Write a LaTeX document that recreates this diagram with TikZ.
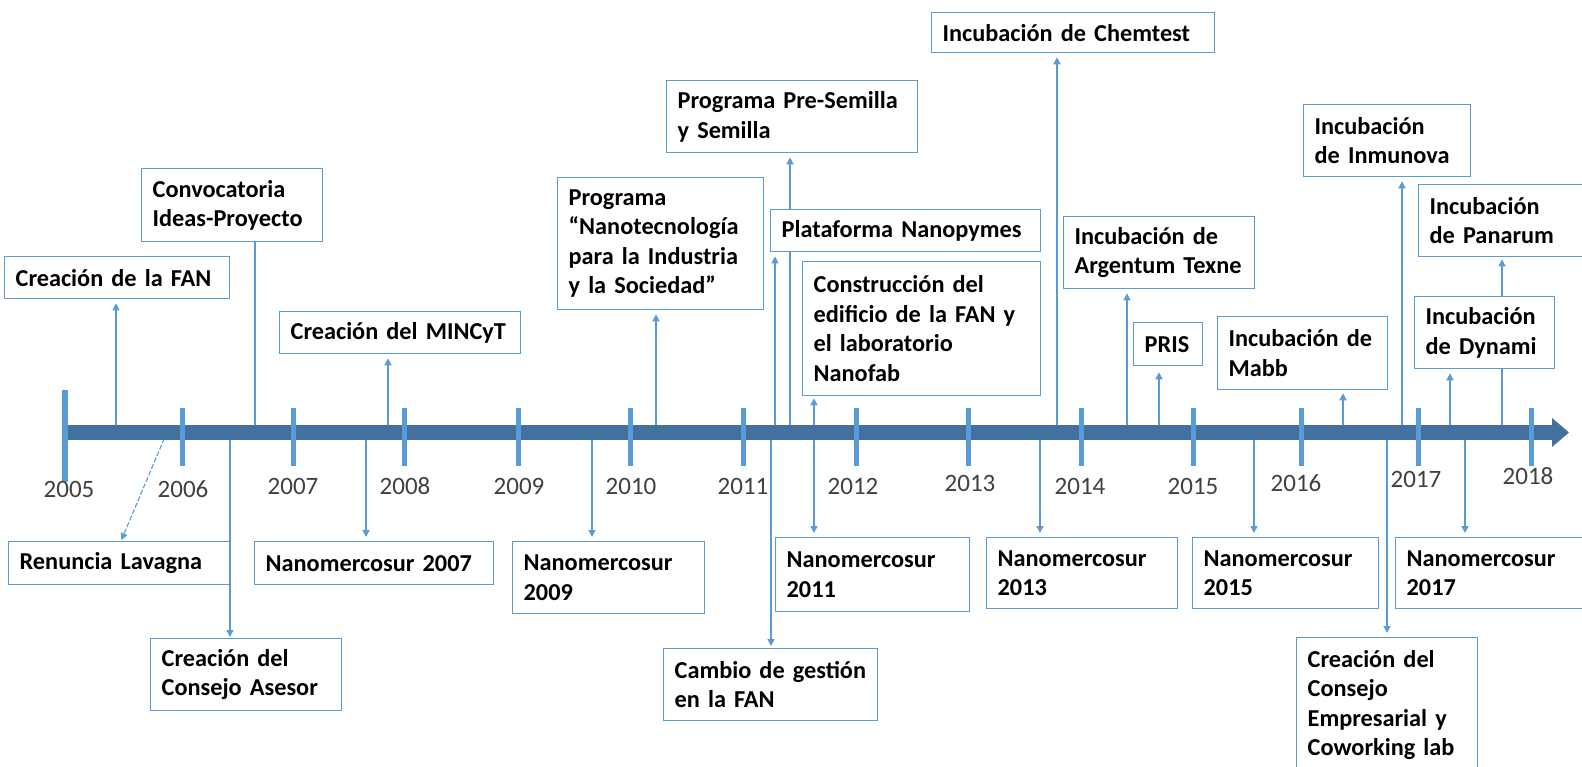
\documentclass[tikz,border=0pt]{standalone}
\usepackage{fontspec}
\setmainfont{Carlito}
\usetikzlibrary{arrows.meta}
\definecolor{boxblue}{HTML}{5B9BD5}
\definecolor{barblue}{HTML}{41719C}
\definecolor{yeargray}{HTML}{404040}
\pgfdeclarelayer{back}
\pgfdeclarelayer{bg}
\pgfsetlayers{back,bg,main}
\begin{document}
\begin{tikzpicture}[x=1pt,y=-1pt,
  evt/.style={draw=boxblue, line width=1.3pt, fill=white, anchor=north west,
    inner xsep=11pt, inner ysep=0pt, align=left, text=black,
    font=\fontsize{24.3}{29.5}\selectfont\bfseries},
  conn/.style={draw=boxblue, line width=1.3pt, -{Triangle[width=7pt,length=7pt]}, shorten >=4pt},
  plainline/.style={draw=boxblue, line width=1.3pt},
  yeartick/.style={draw=boxblue, line width=5pt},
  yr/.style={font=\fontsize{25}{30}\selectfont, text=yeargray, inner sep=0pt}]
\begin{pgfonlayer}{back}
\fill[white] (0,0) rectangle (1582,767);
\end{pgfonlayer}
\useasboundingbox (0,0) rectangle (1582,767);

% ---------- upper events ----------
\node[evt, text width=203pt, minimum width=225pt, minimum height=42pt] (fan) at (4,256) {Creación de la FAN};
\node[evt, text width=159pt, minimum width=181pt, minimum height=73pt] (conv) at (141,168) {Convocatoria\\Ideas-Proyecto};
\node[evt, text width=219pt, minimum width=241pt, minimum height=42pt] (mincyt) at (279,311) {Creación del MINCyT};
\node[evt, text width=184pt, minimum width=206pt, minimum height=132pt] (prog) at (557,177) {Programa\\“Nanotecnología\\para la Industria\\y la Sociedad”};
\node[evt, text width=229pt, minimum width=251pt, minimum height=72pt] (semilla) at (666,80) {Programa Pre-Semilla\\y Semilla};
\node[evt, text width=248pt, minimum width=270pt, minimum height=42pt] (plat) at (770,209) {Plataforma Nanopymes};
\node[evt, text width=216pt, minimum width=238pt, minimum height=134pt] (constr) at (802,261) {Construcción del\\edificio de la FAN y\\el laboratorio\\Nanofab};
\node[evt, text width=261pt, minimum width=283pt, minimum height=40pt] (chem) at (931,12) {Incubación de Chemtest};
\node[evt, text width=169pt, minimum width=191pt, minimum height=72pt] (arg) at (1063,216) {Incubación de\\Argentum Texne};
\node[evt, text width=47pt, minimum width=69pt, minimum height=43pt] (pris) at (1133,322) {PRIS};
\node[evt, text width=148pt, minimum width=170pt, minimum height=73pt] (mabb) at (1217,316) {Incubación de\\Mabb};
\node[evt, text width=145pt, minimum width=167pt, minimum height=72pt] (inmu) at (1303,104) {Incubación\\de Inmunova};
\node[evt, text width=160pt, minimum width=182pt, minimum height=72pt] (pana) at (1418,184) {Incubación\\de Panarum};
\node[evt, text width=118pt, minimum width=140pt, minimum height=72pt] (dyna) at (1414,296) {Incubación\\de Dynami};

% ---------- lower events ----------
\node[evt, text width=199pt, minimum width=221pt, minimum height=43pt] (ren) at (8,541) {Renuncia Lavagna};
\node[evt, text width=169pt, minimum width=191pt, minimum height=72pt] (ases) at (150,638) {Creación del\\Consejo Asesor};
\node[evt, text width=217pt, minimum width=239pt, minimum height=43pt] (nm07) at (254,541) {Nanomercosur 2007};
\node[evt, text width=170pt, minimum width=192pt, minimum height=72pt] (nm09) at (512,541) {Nanomercosur\\2009};
\node[evt, text width=192pt, minimum width=214pt, minimum height=72pt] (camb) at (663,648) {Cambio de gestión\\en la FAN};
\node[evt, text width=172pt, minimum width=194pt, minimum height=74pt] (nm11) at (775,537) {Nanomercosur\\2011};
\node[evt, text width=169pt, minimum width=191pt, minimum height=71pt] (nm13) at (986,537) {Nanomercosur\\2013};
\node[evt, text width=164pt, minimum width=186pt, minimum height=71pt] (nm15) at (1192,537) {Nanomercosur\\2015};
\node[evt, text width=183pt, minimum width=205pt, minimum height=71pt] (nm17) at (1395,537) {Nanomercosur\\2017};
\node[evt, text width=159pt, minimum width=181pt, minimum height=135pt] (emp) at (1296,637) {Creación del\\Consejo\\Empresarial y\\Coworking lab};

% ---------- anchor points on the time line ----------
\coordinate (cFan) at (116,432);
\coordinate (cConv) at (255,432);
\coordinate (cMin) at (388,432);
\coordinate (cProg) at (656,432);
\coordinate (cSem) at (790,432);
\coordinate (cPlat) at (775,432);
\coordinate (cCons) at (814,432);
\coordinate (cChem) at (1057,432);
\coordinate (cArg) at (1127,432);
\coordinate (cPris) at (1159,432);
\coordinate (cMabb) at (1343,432);
\coordinate (cInmu) at (1402,432);
\coordinate (cPana) at (1502,432);
\coordinate (cDyna) at (1450,432);
\coordinate (cRen) at (167,432);
\coordinate (cAses) at (230,432);
\coordinate (c07) at (366,432);
\coordinate (c09) at (592,432);
\coordinate (cCamb) at (771,432);
\coordinate (c11) at (814,432);
\coordinate (c13) at (1040,432);
\coordinate (c15) at (1254,432);
\coordinate (c17) at (1465,432);
\coordinate (cEmp) at (1387,432);

\begin{pgfonlayer}{bg}
\draw[conn] (cFan) -- (cFan |- fan.south);
\draw[plainline] (cConv |- conv.south) -- (cConv);
\draw[conn] (cMin) -- (cMin |- mincyt.south);
\draw[conn] (cProg) -- (cProg |- prog.south);
\draw[conn] (cSem) -- (cSem |- semilla.south);
\draw[conn] (cPlat) -- (cPlat |- plat.south);
\draw[conn, shorten >=2pt] (cCons) -- (cCons |- constr.south);
\draw[conn] (cChem) -- (cChem |- chem.south);
\draw[conn] (cArg) -- (cArg |- arg.south);
\draw[conn, shorten >=6pt] (cPris) -- (cPris |- pris.south);
\draw[conn, shorten >=3pt] (cMabb) -- (cMabb |- mabb.south);
\draw[conn] (cInmu) -- (cInmu |- inmu.south);
\draw[conn, shorten >=2pt] (cPana) -- (cPana |- pana.south);
\draw[conn] (cDyna) -- (cDyna |- dyna.south);
\draw[conn, line width=1.1pt, dash pattern=on 5pt off 2pt, shorten >=1pt] (cRen) -- ([xshift=113pt]ren.north west);
\draw[conn, shorten >=1pt] (cAses) -- (cAses |- ases.north);
\draw[conn] (c07) -- (c07 |- nm07.north);
\draw[conn] (c09) -- (c09 |- nm09.north);
\draw[conn, shorten >=2pt] (cCamb) -- (cCamb |- camb.north);
\draw[conn] (c11) -- (c11 |- nm11.north);
\draw[conn] (c13) -- (c13 |- nm13.north);
\draw[conn] (c15) -- (c15 |- nm15.north);
\draw[conn] (c17) -- (c17 |- nm17.north);
\draw[conn] (cEmp) -- (cEmp |- emp.north);
\end{pgfonlayer}

% ---------- time line ----------
\draw[barblue, line width=15pt] (65,432.5) -- (1554,432.5);
\fill[barblue] (1552,418) -- (1569,432.5) -- (1552,447) -- cycle;
\draw[boxblue, line width=6pt] (65,390) -- (65,482);
\foreach \x in {182,293,404,518,630,743,856,968,1081,1193,1301,1418,1531}
  \draw[yeartick] (\x,408) -- (\x,466);

% ---------- years ----------
\node[yr] (y2005) at (69,489) {2005};
\node[yr] (y2006) at (183,489) {2006};
\node[yr] (y2007) at (293,486) {2007};
\node[yr] (y2008) at (405,486) {2008};
\node[yr] (y2009) at (519,486) {2009};
\node[yr] (y2010) at (631,486) {2010};
\node[yr] (y2011) at (743,486) {2011};
\node[yr] (y2012) at (853,486) {2012};
\node[yr] (y2013) at (970,483) {2013};
\node[yr] (y2014) at (1080,486) {2014};
\node[yr] (y2015) at (1193,486) {2015};
\node[yr] (y2016) at (1296,483) {2016};
\node[yr] (y2017) at (1416,479) {2017};
\node[yr] (y2018) at (1528,476) {2018};
\end{tikzpicture}
\end{document}
